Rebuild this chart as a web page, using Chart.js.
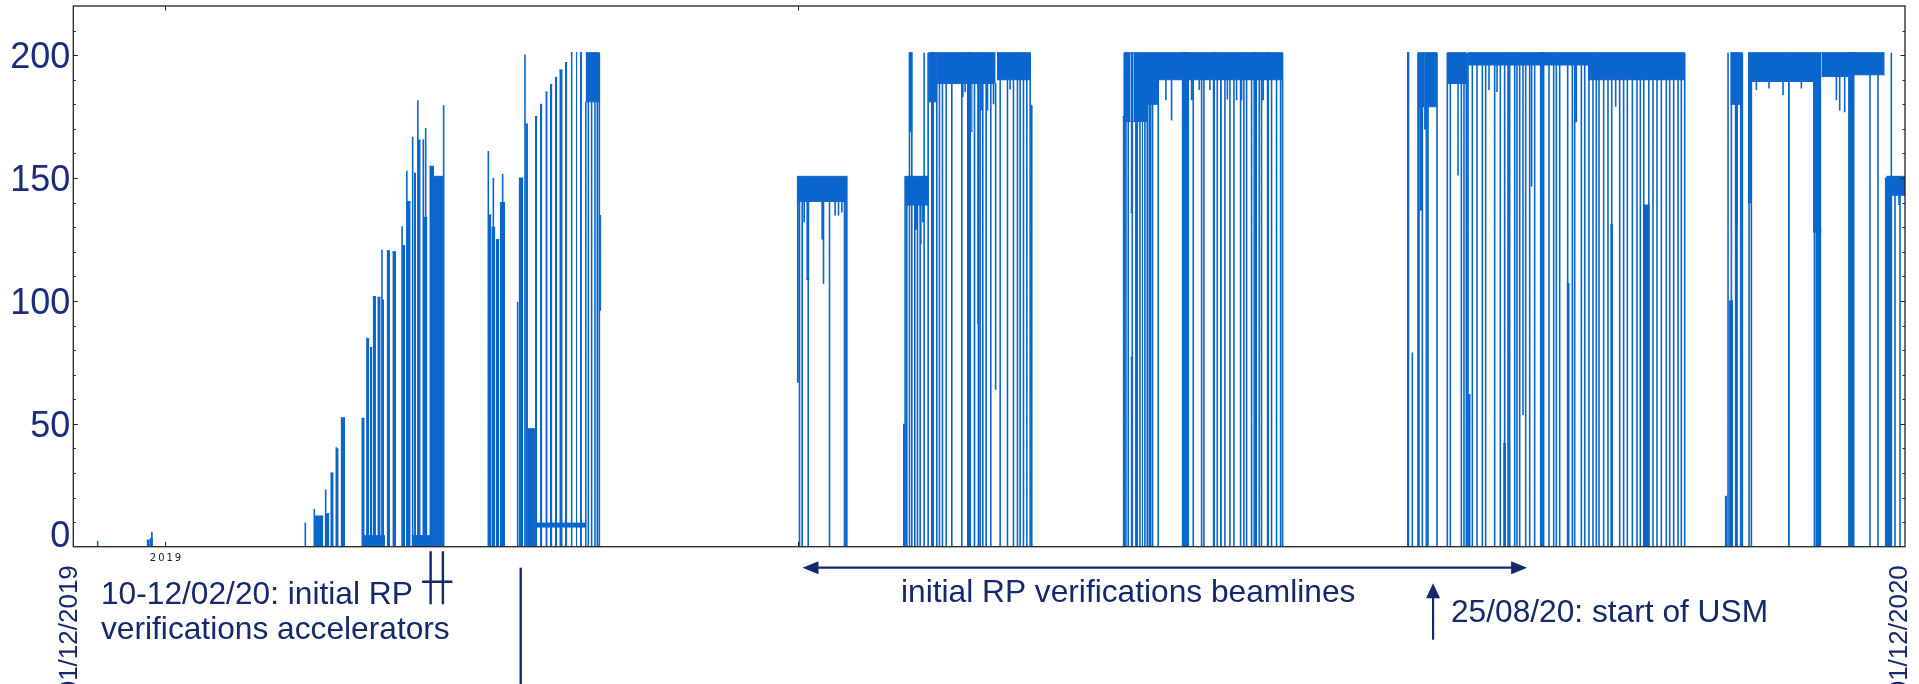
<!DOCTYPE html>
<html>
<head>
<meta charset="utf-8">
<title>Beam current 2019-2020</title>
<script src="https://cdn.jsdelivr.net/npm/chart.js@4.4.1/dist/chart.umd.min.js"></script>
<style>
  html, body { margin: 0; padding: 0; background: #ffffff; overflow: hidden; }
  canvas { display: block; }
</style>
</head>
<body>
<canvas id="beam" width="1919" height="684"></canvas>
<script>
// Time axis in days: day 0 = 01/12/2019, day 366 = 01/12/2020
const dayRange = [0, 366];
const dateLabels = ['01/12/2019', '01/12/2020'];
const xTickDays = [18.3, 144.8];
const xTickLabels = ['2019', ''];
const yMax = 220;
const yMajorStep = 50;
const yMinorStep = 10;
const yLabelValues = [0, 50, 100, 150, 200];

// Noisy operating plateaus: [startDay, endDay, low, high]
const plateaus = [
  [92.58, 102.30, 8.0, 9.6],
  [102.37, 105.11, 181, 201],
  [144.70, 154.56, 140.5, 150.7],
  [166.21, 170.88, 139, 150.7],
  [170.88, 172.60, 181, 201],
  [172.60, 184.30, 188.5, 201],
  [184.53, 191.30, 190, 201],
  [209.99, 211.26, 173, 201],
  [211.26, 211.80, 136, 201],
  [211.80, 214.60, 173, 201],
  [214.60, 216.80, 180, 201],
  [216.80, 241.63, 190, 201],
  [268.69, 269.90, 179, 201],
  [269.90, 270.40, 170, 201],
  [270.40, 272.49, 179, 201],
  [274.55, 278.35, 188.5, 201],
  [278.68, 302.66, 196, 201],
  [302.66, 321.98, 190, 201],
  [331.11, 333.50, 180, 201],
  [334.64, 335.30, 140, 201],
  [335.30, 347.62, 189.3, 201],
  [347.62, 349.29, 128, 201],
  [349.29, 354.62, 191.3, 201],
  [354.62, 361.94, 192, 201],
  [362.28, 366.00, 143, 150.7]
];

// Dense partial excursions: [startDay, endDay, low, high]
const blocks = [
  [57.82, 62.28, 0, 4.5],
  [67.61, 71.27, 0, 4.5],
  [146.45, 147.10, 108.7, 141],
  [166.95, 167.68, 169, 201],
  [179.40, 179.70, 169, 188.5],
  [180.60, 180.85, 90.8, 188.5],
  [191.30, 191.55, 59.8, 179.6],
  [209.95, 210.30, 104, 175],
  [269.00, 269.60, 137, 179],
  [331.97, 332.64, 132, 180]
];

// Solid columns from zero: [startDay, endDay, top]
const columns = [
  [14.66, 15.30, 2.7], [15.30, 15.90, 3.3],
  [48.30, 49.96, 12.5], [50.29, 51.16, 13.4], [51.49, 52.02, 29.9],
  [52.49, 53.02, 39.8], [53.42, 54.29, 52.5], [57.69, 58.22, 52.2],
  [58.62, 59.15, 84.6], [59.28, 59.75, 81.0], [59.82, 60.48, 101.8],
  [60.75, 61.42, 101.5], [61.62, 62.08, 100.4], [62.61, 63.28, 120.4],
  [63.75, 64.48, 120.0], [65.68, 66.34, 122.5], [66.61, 67.41, 140.4],
  [68.08, 68.50, 152.0], [68.81, 69.41, 165.4], [70.00, 70.74, 134.0],
  [71.14, 72.07, 154.8], [72.07, 74.07, 150.7],
  [82.86, 83.53, 135], [83.53, 84.33, 130], [84.46, 85.12, 125],
  [85.26, 86.26, 140], [88.99, 89.92, 150], [90.32, 90.85, 172],
  [90.85, 92.25, 48], [92.25, 92.72, 175], [93.25, 93.72, 180],
  [94.32, 94.78, 185], [95.25, 95.72, 188], [96.25, 96.71, 191],
  [97.11, 97.78, 194], [98.25, 98.71, 197], [99.38, 99.78, 201],
  [100.44, 100.71, 201], [101.24, 101.64, 201],
  [171.34, 172.01, 201], [178.54, 179.40, 201],
  [209.66, 209.95, 175], [211.26, 211.79, 77], [213.46, 213.79, 201],
  [221.45, 222.98, 201], [227.64, 228.18, 201], [229.11, 229.51, 201],
  [235.77, 236.57, 201], [238.43, 238.97, 201],
  [266.50, 267.00, 201], [278.68, 279.22, 61.8], [285.70, 286.30, 42],
  [293.00, 294.00, 201], [298.40, 299.00, 107], [307.10, 307.65, 131],
  [313.65, 315.00, 139],
  [329.98, 330.44, 20.5], [330.84, 331.64, 100], [342.63, 342.96, 201],
  [348.29, 349.29, 129], [354.62, 355.95, 201], [361.94, 363.27, 150]
];

// Short trips: [day, top] from zero, or [day, bottom, top]
const spikes = [
  [4.87, 2.3], [15.70, 6.1],
  [46.36, 9.8], [48.16, 15.3], [50.43, 23.3], [51.55, 30.3], [52.55, 40.5],
  [57.75, 52.5], [58.68, 85], [61.68, 120.8], [64.20, 90], [65.70, 130.4],
  [66.65, 153], [67.81, 166.8], [68.85, 181.7], [69.94, 165.8], [70.41, 170.4],
  [74.00, 179.6],
  [82.93, 161], [83.93, 150], [85.79, 151.7], [88.79, 99.7], [90.25, 200.3],
  [102.40, 181], [102.91, 181], [103.57, 181], [104.24, 181], [104.71, 181],
  [105.11, 201], [105.30, 96, 135],
  [144.75, 66.7, 150.7], [145.10, 150.7], [145.64, 150.7], [146.04, 132, 141],
  [146.85, 150.7], [149.63, 125, 141], [149.90, 107, 141], [151.10, 150.7],
  [152.23, 134.8, 141], [152.90, 134.8, 141], [153.56, 136, 141],
  [154.09, 150.7], [154.43, 150.7], [154.56, 150.7],
  [165.95, 50], [166.21, 150.7], [166.55, 150.7], [167.08, 201], [167.55, 201],
  [168.15, 150.7], [168.40, 129, 140], [168.68, 150.7], [169.21, 150.7],
  [169.35, 123, 140], [169.75, 132, 140], [170.01, 201], [170.81, 201],
  [172.54, 201], [173.07, 201], [173.67, 201], [174.41, 201], [175.54, 201],
  [177.54, 201], [177.74, 183, 188.5], [178.20, 185, 188.5], [180.07, 201],
  [180.85, 201], [181.20, 201], [181.40, 177.5, 188.5], [181.73, 201],
  [182.40, 201], [182.67, 177.5, 188.5], [183.33, 201], [183.87, 180, 188.5],
  [184.30, 63.9, 188.5], [185.20, 201], [186.66, 201], [187.19, 186, 190],
  [187.86, 201], [188.66, 201], [189.19, 201], [189.86, 201], [190.53, 201],
  [191.19, 201], [191.52, 179.6],
  [209.99, 201], [210.33, 201], [210.79, 201], [211.59, 201], [212.32, 201],
  [212.59, 201], [213.12, 201], [214.12, 201], [214.59, 201], [214.99, 201],
  [215.26, 201], [215.66, 201], [216.79, 201], [218.32, 181.7, 190],
  [219.45, 173.4, 190], [223.45, 181.7, 190], [223.78, 201], [224.98, 185.8, 190],
  [225.45, 201], [225.91, 201], [227.11, 185.8, 190], [228.58, 201], [230.11, 201],
  [230.60, 182, 190], [231.11, 201], [231.91, 201], [232.44, 181.7, 190],
  [233.24, 201], [233.44, 181.7, 190], [233.90, 201], [234.44, 201], [235.44, 201],
  [236.97, 201], [237.43, 201], [237.77, 181.7, 190], [239.43, 201], [240.43, 201],
  [241.23, 201], [241.63, 201],
  [266.69, 201], [267.56, 79], [268.69, 201], [268.89, 201], [269.56, 201],
  [270.36, 201], [270.69, 201], [272.49, 201], [274.55, 201], [275.15, 201],
  [276.69, 151, 188.5], [277.35, 201], [277.88, 201], [278.35, 201], [278.68, 201],
  [279.55, 201], [280.48, 201], [281.55, 201], [282.21, 201], [282.88, 185.8, 196],
  [284.01, 201], [284.48, 185, 196], [285.14, 201], [286.00, 201], [286.68, 201],
  [287.01, 201], [288.01, 201], [288.47, 201], [289.01, 201], [289.67, 53.6, 196],
  [290.21, 201], [291.00, 201], [291.40, 146.6, 196], [292.00, 201], [293.50, 201],
  [294.87, 201], [295.80, 201], [296.33, 201], [297.00, 201], [298.60, 201],
  [299.53, 201], [300.00, 201], [300.33, 172.7, 196], [301.33, 201], [302.00, 201],
  [302.86, 201], [303.66, 201], [304.32, 201], [304.86, 201], [305.79, 201],
  [306.65, 201], [307.40, 201], [308.19, 179, 190], [308.99, 201], [309.78, 201],
  [310.52, 201], [311.52, 201], [312.45, 201], [313.12, 201], [313.80, 201],
  [314.80, 201], [315.65, 201], [316.45, 201], [317.31, 201], [318.31, 201],
  [318.98, 201], [319.78, 201], [320.64, 201], [321.31, 201], [321.98, 201],
  [330.64, 201], [331.31, 201], [332.17, 201], [332.44, 201], [333.17, 201],
  [333.50, 201], [334.84, 201], [335.30, 201], [336.30, 185.8, 189.3],
  [338.83, 186.4, 189.3], [341.63, 183.7, 189.3], [342.79, 201],
  [345.29, 186.4, 189.3], [347.90, 201], [348.29, 201], [352.29, 181.7, 191.3],
  [352.95, 177.5, 191.3], [353.95, 176.8, 191.3], [359.00, 201], [360.60, 201],
  [363.27, 201], [364.00, 150.7], [364.80, 139, 143], [365.00, 150.7]
];

const BLUE = '#0a66cc';
const NAVY = '#1b2c80';
const INK = '#13286d';
const FRAME = '#222222';
const FONT = '"Liberation Sans", Arial, sans-serif';

// ---- dataset construction ----
function rangeLines(list) {
  const hi = [], lo = [];
  list.slice().sort((a, b) => a[0] - b[0]).forEach(([d0, d1, l, h]) => {
    hi.push({ x: d0, y: h }, { x: d1, y: h }, { x: d1, y: null });
    lo.push({ x: d0, y: l }, { x: d1, y: l }, { x: d1, y: null });
  });
  return { hi, lo };
}
function columnLine(list) {
  const pts = [];
  list.slice().sort((a, b) => a[0] - b[0]).forEach(([d0, d1, top]) => {
    pts.push({ x: d0, y: top }, { x: d1, y: top }, { x: d1, y: null });
  });
  return pts;
}
function spikeLine(list) {
  const pts = [];
  list.slice().sort((a, b) => a[0] - b[0]).forEach(s => {
    const d = s[0];
    const bottom = s.length === 3 ? s[1] : 0;
    const top = s.length === 3 ? s[2] : s[1];
    pts.push({ x: d, y: bottom }, { x: d, y: top }, { x: d, y: null });
  });
  return pts;
}

const plat = rangeLines(plateaus);
const blk = rangeLines(blocks);

const base = { pointRadius: 0, pointHoverRadius: 0, spanGaps: false, tension: 0, borderColor: BLUE, backgroundColor: BLUE };
const datasets = [
  Object.assign({}, base, { label: 'plateau high', data: plat.hi, borderWidth: 1, fill: false }),
  Object.assign({}, base, { label: 'plateau low', data: plat.lo, borderWidth: 1, fill: '-1' }),
  Object.assign({}, base, { label: 'block high', data: blk.hi, borderWidth: 1, fill: false }),
  Object.assign({}, base, { label: 'block low', data: blk.lo, borderWidth: 1, fill: '-1' }),
  Object.assign({}, base, { label: 'columns', data: columnLine(columns), borderWidth: 1, fill: 'origin' }),
  Object.assign({}, base, { label: 'trips', data: spikeLine(spikes), borderWidth: 1.6, fill: false })
];

// ---- frame, ticks, labels and notes ----
function arrowHead(ctx, tipX, tipY, dirX, dirY, len, half) {
  const bx = tipX - dirX * len, by = tipY - dirY * len;
  ctx.beginPath();
  ctx.moveTo(tipX, tipY);
  ctx.lineTo(bx - dirY * half, by + dirX * half);
  ctx.lineTo(bx + dirY * half, by - dirX * half);
  ctx.closePath();
  ctx.fill();
}

const decorations = {
  id: 'decorations',
  afterDatasetsDraw(chart) {
    const { ctx, chartArea: a, scales: { x, y } } = chart;
    ctx.save();

    // plot frame
    ctx.strokeStyle = FRAME;
    ctx.lineWidth = 1.3;
    ctx.strokeRect(a.left, a.top, a.right - a.left, a.bottom - a.top);

    // inward y ticks on both sides
    ctx.lineWidth = 1;
    for (let v = yMinorStep; v < yMax; v += yMinorStep) {
      const py = Math.round(y.getPixelForValue(v)) + 0.5;
      const len = v % yMajorStep === 0 ? 4.5 : 2.5;
      ctx.beginPath();
      ctx.moveTo(a.left, py); ctx.lineTo(a.left + len, py);
      ctx.moveTo(a.right, py); ctx.lineTo(a.right - len, py);
      ctx.stroke();
    }
    // inward x ticks on top and bottom
    xTickDays.forEach((d, i) => {
      const px = Math.round(x.getPixelForValue(d)) + 0.5;
      ctx.beginPath();
      ctx.moveTo(px, a.top); ctx.lineTo(px, a.top + 4.5);
      ctx.moveTo(px, a.bottom); ctx.lineTo(px, a.bottom - 5);
      ctx.stroke();
      if (xTickLabels[i]) {
        ctx.fillStyle = FRAME;
        ctx.font = '10px "DejaVu Sans", sans-serif';
        ctx.letterSpacing = '2px';
        ctx.textAlign = 'center';
        ctx.textBaseline = 'alphabetic';
        ctx.fillText(xTickLabels[i], px + 1, a.bottom + 14.5);
        ctx.letterSpacing = '0px';
      }
    });

    // y labels
    ctx.fillStyle = NAVY;
    ctx.font = '36px ' + FONT;
    ctx.textAlign = 'right';
    ctx.textBaseline = 'alphabetic';
    yLabelValues.forEach(v => {
      const py = y.getPixelForValue(v);
      ctx.fillText(String(v), a.left - 3, v === 0 ? py + 0.5 : py + 13);
    });

    // rotated start / end dates
    ctx.fillStyle = INK;
    ctx.font = '26px ' + FONT;
    [[dayRange[0], 3.7], [dayRange[1], 2]].forEach(([d, dx], i) => {
      ctx.save();
      ctx.translate(x.getPixelForValue(d) + dx, a.bottom + 18.5);
      ctx.rotate(-Math.PI / 2);
      ctx.textAlign = 'right';
      ctx.textBaseline = 'alphabetic';
      ctx.fillText(dateLabels[i], 0, 0);
      ctx.restore();
    });

    // notes
    ctx.strokeStyle = INK;
    ctx.fillStyle = INK;
    ctx.font = '31.7px ' + FONT;
    ctx.textAlign = 'left';

    // accelerator verification marker (10-12/02/20)
    const m0 = x.getPixelForValue(71.4), m1 = x.getPixelForValue(73.85);
    ctx.lineWidth = 2.4;
    ctx.beginPath();
    ctx.moveTo(m0, a.bottom + 4.5); ctx.lineTo(m0, a.bottom + 57.5);
    ctx.moveTo(m1, a.bottom + 4.5); ctx.lineTo(m1, a.bottom + 57.5);
    ctx.moveTo(m0 - 8.5, a.bottom + 35); ctx.lineTo(m1 + 9.5, a.bottom + 35);
    ctx.stroke();
    ctx.fillText('10-12/02/20: initial RP', 101, 604);
    ctx.fillText('verifications accelerators', 101, 638.5);

    // vertical separator
    const s = x.getPixelForValue(89.4);
    ctx.beginPath();
    ctx.moveTo(s, a.bottom + 21); ctx.lineTo(s, 684);
    ctx.stroke();

    // beamline verification period
    const b0 = x.getPixelForValue(145.7), b1 = x.getPixelForValue(290.5);
    const by = a.bottom + 21;
    ctx.lineWidth = 2.2;
    ctx.beginPath();
    ctx.moveTo(b0 + 8, by); ctx.lineTo(b1 - 8, by);
    ctx.stroke();
    arrowHead(ctx, b0, by, -1, 0, 16, 6.5);
    arrowHead(ctx, b1, by, 1, 0, 16, 6.5);
    ctx.fillText('initial RP verifications beamlines', 901, 602);

    // start of USM
    const u = x.getPixelForValue(271.7);
    ctx.beginPath();
    ctx.moveTo(u, a.bottom + 93); ctx.lineTo(u, a.bottom + 45);
    ctx.stroke();
    arrowHead(ctx, u, a.bottom + 36.5, 0, -1, 15, 7);
    ctx.fillText('25/08/20: start of USM', 1451, 622);

    ctx.restore();
  }
};

new Chart(document.getElementById('beam'), {
  type: 'line',
  data: { datasets },
  options: {
    responsive: false,
    maintainAspectRatio: false,
    devicePixelRatio: 1,
    animation: false,
    events: [],
    layout: { padding: { left: 73.3, right: 14, top: 6, bottom: 137.3 } },
    plugins: { legend: { display: false }, tooltip: { enabled: false } },
    scales: {
      x: { type: 'linear', min: dayRange[0], max: dayRange[1], display: false },
      y: { type: 'linear', min: 0, max: yMax, display: false }
    }
  },
  plugins: [decorations]
});
</script>
</body>
</html>
